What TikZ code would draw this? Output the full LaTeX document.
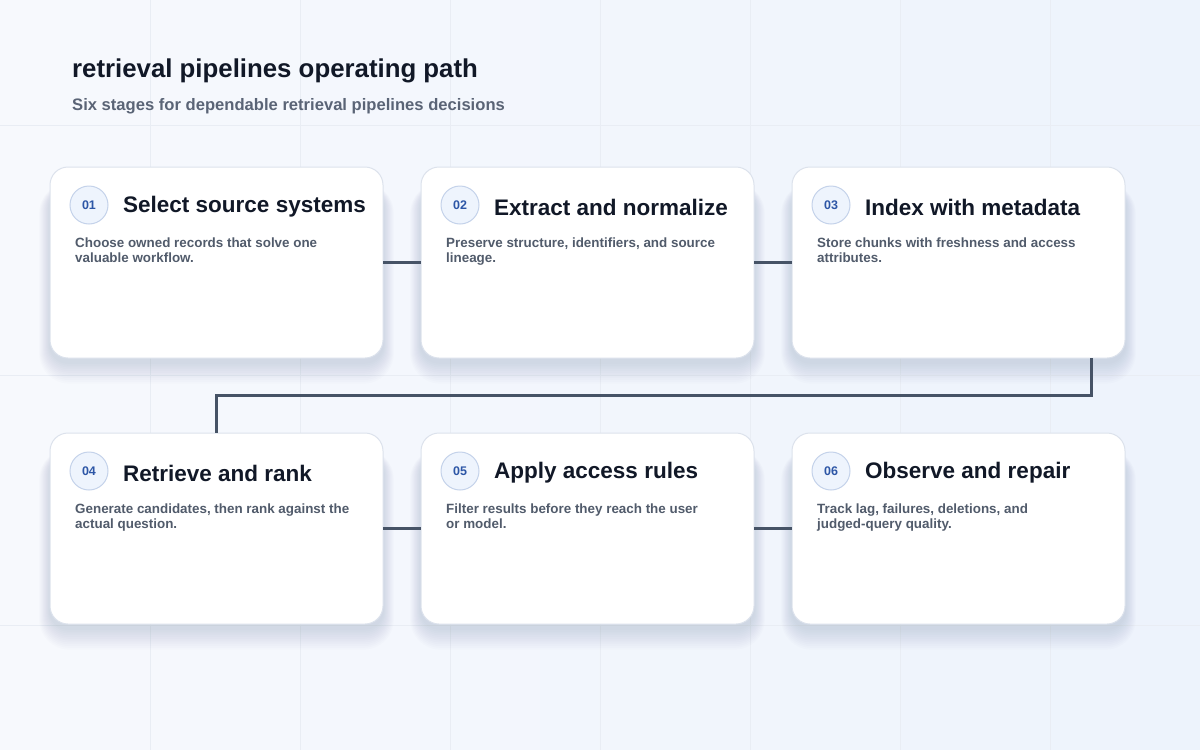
\documentclass[tikz,border=0pt]{standalone}
\usepackage{fontspec}
\setmainfont{Liberation Sans}
\usetikzlibrary{positioning,calc}
\definecolor{bgleft}{HTML}{F7F9FD}
\definecolor{bgright}{HTML}{EDF3FC}
\definecolor{gridline}{HTML}{E9EDF4}
\definecolor{cardline}{HTML}{DCE2EC}
\definecolor{shadowcol}{HTML}{2A3A5E}
\definecolor{badgefill}{HTML}{EEF4FD}
\definecolor{badgeline}{HTML}{C4D2EA}
\definecolor{badgetext}{HTML}{2D56A6}
\definecolor{titletext}{HTML}{111827}
\definecolor{subtext}{HTML}{5A6476}
\definecolor{desctext}{HTML}{515B6B}
\definecolor{linkline}{HTML}{465366}
\pgfdeclarelayer{back}
\pgfdeclarelayer{shade}
\pgfsetlayers{back,shade,main}
\tikzset{card/.style={draw=cardline,line width=1pt,fill=white,rounded corners=18pt,minimum width=333pt,minimum height=191pt,inner sep=0pt,outer sep=0pt}}
\tikzset{badge/.style={circle,draw=badgeline,line width=1pt,fill=badgefill,minimum size=38pt,inner sep=0pt,text=badgetext,font=\bfseries\fontsize{12.5}{12}\selectfont}}
\tikzset{cardtitle/.style={anchor=west,inner sep=0pt,text=titletext,font=\bfseries\fontsize{22.5}{26}\selectfont}}
\tikzset{carddesc/.style={anchor=north west,inner sep=0pt,align=left,text=desctext,font=\bfseries\fontsize{13.4}{15}\selectfont}}
\tikzset{link/.style={draw=linkline,line width=3pt}}
\tikzset{softshadow/.style={fill=shadowcol,opacity=0.011}}

\begin{document}
\begin{tikzpicture}[x=1pt,y=-1pt]

	%% Background
	\useasboundingbox (0,0) rectangle (1200,750);
	\begin{pgfonlayer}{back}
	\shade[left color=bgleft,right color=bgright] (0,0) rectangle (1200,750);
	\foreach \gx in {150,300,...,1050} \draw[gridline,line width=0.6pt] (\gx,0) -- (\gx,750);
	\foreach \gy in {125,375,625} \draw[gridline,line width=0.6pt] (0,\gy) -- (1200,\gy);
	\end{pgfonlayer}
	%%

	\node[anchor=base west,inner sep=0pt,text=titletext,font=\bfseries\fontsize{25.8}{28}\selectfont] (head) at (72,77) {retrieval pipelines operating path};
	\node[anchor=base west,inner sep=0pt,text=subtext,font=\bfseries\fontsize{16.6}{18}\selectfont] (subhead) at (72,110) {Six stages for dependable retrieval pipelines decisions};

	%% Cards
	\node[card] (c1) at (216.5,262.5) {};
	\node[card,right=38pt of c1] (c2) {};
	\node[card,right=38pt of c2] (c3) {};
	\node[card,below=75pt of c1] (c4) {};
	\node[card,right=38pt of c4] (c5) {};
	\node[card,right=38pt of c5] (c6) {};

	%% Shadows under the cards
	\begin{pgfonlayer}{shade}
	\foreach \c in {c1,c2,c3,c4,c5,c6}
		\foreach \k in {1,...,12}
			\fill[softshadow,rounded corners=18pt+\k pt] ($(\c.north west)+(-0.9*\k,22-0.5*\k)$) rectangle ($(\c.south east)+(0.9*\k,4+1.8*\k)$);
	\end{pgfonlayer}

	%% Connectors
	\draw[link] (c1.east) -- (c2.west);
	\draw[link] (c2.east) -- (c3.west);
	\draw[link] ([xshift=-34pt]c3.south east) -- ++(0,37) coordinate (turn) -| (c4.north);
	\draw[link] (c4.east) -- (c5.west);
	\draw[link] (c5.east) -- (c6.west);

	%% Card contents
	\foreach \c/\n/\t/\d in {c1/01/Select source systems/{Choose owned records that solve one\\valuable workflow.},
		c2/02/Extract and normalize/{Preserve structure, identifiers, and source\\lineage.},
		c3/03/Index with metadata/{Store chunks with freshness and access\\attributes.},
		c4/04/Retrieve and rank/{Generate candidates, then rank against the\\actual question.},
		c5/05/Apply access rules/{Filter results before they reach the user\\or model.},
		c6/06/Observe and repair/{Track lag, failures, deletions, and\\judged-query quality.}}
	{
		\node[badge] (\c-num) at ([xshift=39pt,yshift=-38pt]\c.north west) {\n};
		\node[cardtitle] (\c-title) at ([xshift=73pt,yshift=-40pt]\c.north west) {\t};
		\node[carddesc] (\c-desc) at ([xshift=25pt,yshift=-71pt]\c.north west) {\d};
	}

\end{tikzpicture}
\end{document}
